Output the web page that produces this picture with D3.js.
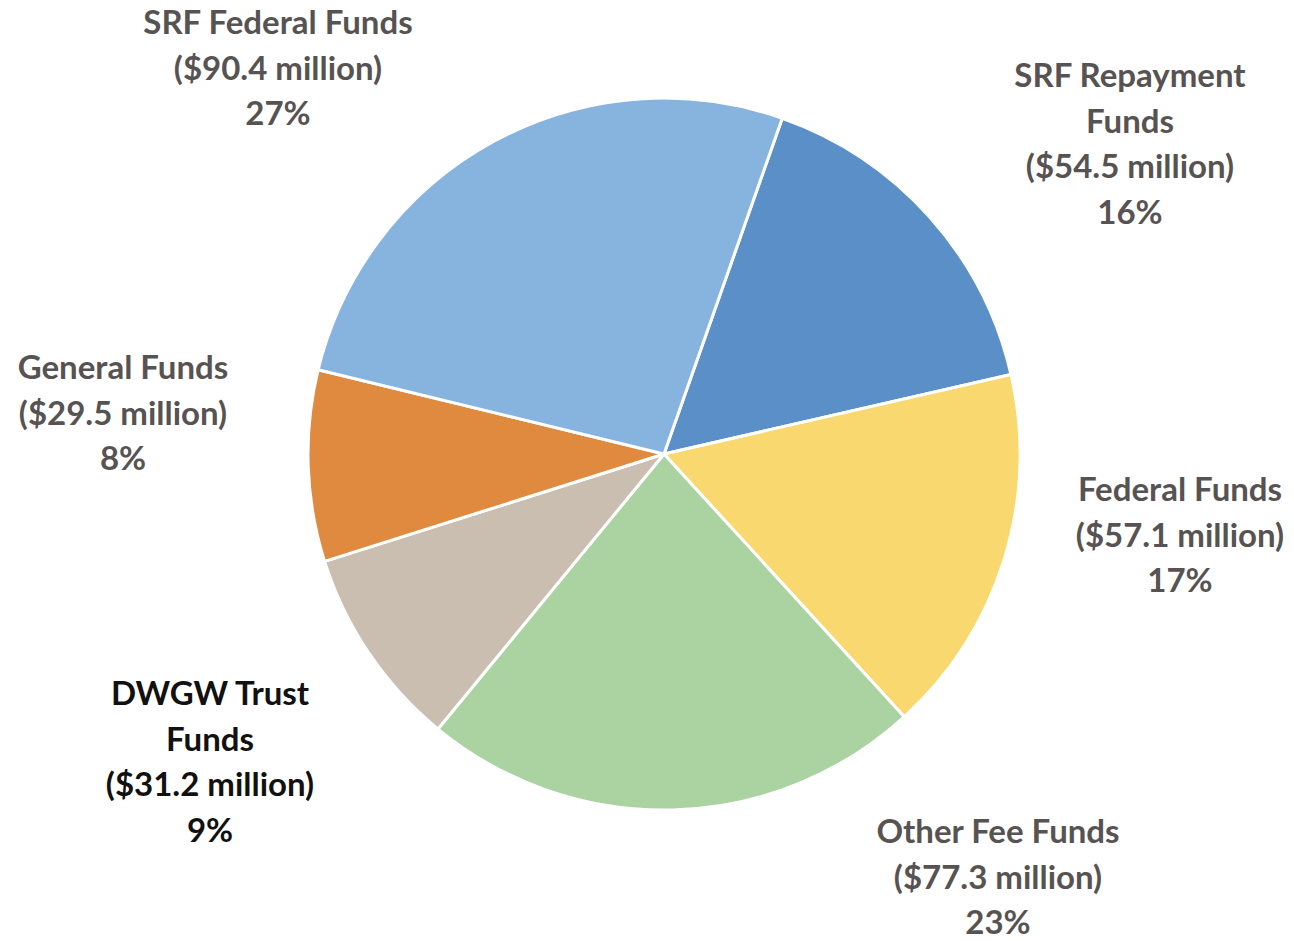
<!DOCTYPE html>
<html>
<head>
<meta charset="utf-8">
<script src="https://cdn.jsdelivr.net/npm/d3@7"></script>
<style>
  body { margin: 0; background: #fff; }
  text { font-family: Lato, "Open Sans", sans-serif; font-weight: bold; }
</style>
</head>
<body>
<div id="chart"></div>
<script>
// data
var names = ['SRF Repayment Funds', 'Federal Funds', 'Other Fee Funds', 'DWGW Trust Funds', 'General Funds', 'SRF Federal Funds'];
var amounts = [54.5, 57.1, 77.3, 31.2, 29.5, 90.4];
var percents = ['16%', '17%', '23%', '9%', '8%', '27%'];
var labelLines = [
    ['SRF Repayment', 'Funds'],
    ['Federal Funds'],
    ['Other Fee Funds'],
    ['DWGW Trust', 'Funds'],
    ['General Funds'],
    ['SRF Federal Funds']
];

var colors = ['#5b8fc8', '#f8d86f', '#aad3a1', '#cabeb1', '#df8a3f', '#87b4de'];
var textColors = ['#575352', '#575352', '#575352', '#111111', '#575352', '#575352'];
// label anchor (centre of first line) relative to pie centre
var labelPos = [[466, -379], [516, 35], [334, 377], [-454, 239], [-541, -87], [-386, -432]];

var width = 1294, height = 941;
var cx = 664, cy = 454, radius = 356;
var lineH = 45.5;

var svg = d3.select('#chart')
    .append('svg')
    .attr('width', width)
    .attr('height', height)
    .style('background', '#fff');

var g = svg.append('g')
    .attr('transform', 'translate(' + cx + ',' + cy + ')');

var startA = 19.4 * Math.PI / 180;
var pie = d3.pie()
    .sort(null)
    .value(function (d) { return d; })
    .startAngle(startA)
    .endAngle(startA + 2 * Math.PI);

var arc = d3.arc()
    .innerRadius(0)
    .outerRadius(radius);

g.selectAll('path')
    .data(pie(amounts))
    .enter()
    .append('path')
    .attr('d', arc)
    .attr('fill', function (d, i) { return colors[i]; })
    .attr('stroke', '#fff')
    .attr('stroke-width', 3)
    .attr('stroke-linejoin', 'round');

var labels = g.selectAll('text.lbl')
    .data(names)
    .enter()
    .append('text')
    .attr('class', 'lbl')
    .attr('text-anchor', 'middle')
    .attr('font-size', 33)
    .attr('fill', function (d, i) { return textColors[i]; })
    .attr('transform', function (d, i) {
        return 'translate(' + labelPos[i][0] + ',' + labelPos[i][1] + ')';
    });

labels.each(function (d, i) {
    var lines = labelLines[i].concat(['($' + amounts[i].toFixed(1) + ' million)', percents[i]]);
    var t = d3.select(this);
    lines.forEach(function (l, j) {
        t.append('tspan')
            .attr('x', 0)
            .attr('y', j * lineH + 12)
            .text(l);
    });
});
</script>
</body>
</html>
